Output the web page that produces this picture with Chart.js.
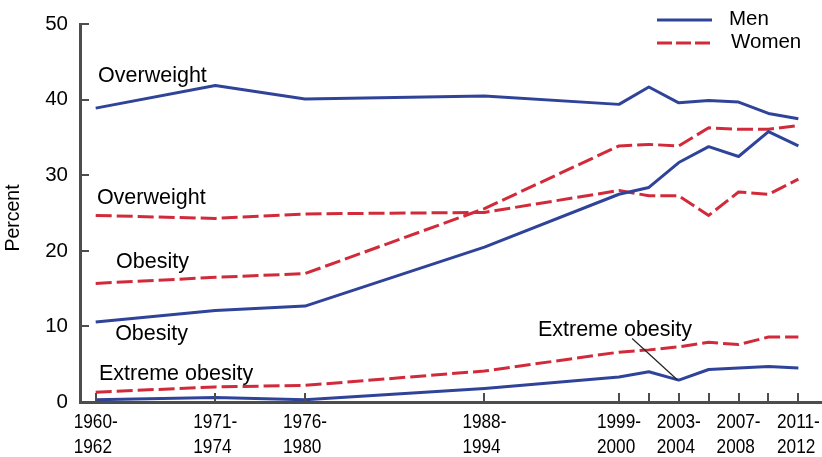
<!DOCTYPE html>
<html><head><meta charset="utf-8">
<script src="https://cdn.jsdelivr.net/npm/chart.js@4.4.1/dist/chart.umd.min.js"></script>
<style>html,body{margin:0;padding:0;background:#fff;}canvas{display:block;}</style>
</head><body>
<canvas id="c" width="822" height="457"></canvas>
<script>
// Survey periods (NHES / NHANES)
const periods = ['1960-1962','1971-1974','1976-1980','1988-1994','1999-2000','2001-2002','2003-2004','2005-2006','2007-2008','2009-2010','2011-2012'];
// Value of each period on the (non-uniform) survey axis of the original chart
const surveyAxisValue = [0, 4, 7, 13, 17.5, 18.5, 19.5, 20.5, 21.5, 22.5, 23.5];
const tickLabels = [['1960-','1962'],['1971-','1974'],['1976-','1980'],['1988-','1994'],['1999-','2000'],[],['2003-','2004'],[],['2007-','2008'],[],['2011-','2012']];
const yTicks = [0, 10, 20, 30, 40, 50];

// Percent, men
const menOverweight      = [38.9, 41.9, 40.1, 40.5, 39.4, 41.7, 39.6, 39.9, 39.7, 38.2, 37.5];
const menObesity         = [10.6, 12.1, 12.7, 20.5, 27.5, 28.4, 31.7, 33.8, 32.5, 35.8, 33.9];
const menExtremeObesity  = [0.3, 0.6, 0.3, 1.8, 3.3, 4.0, 2.9, 4.3, 4.5, 4.7, 4.5];
// Percent, women
const womenOverweight     = [24.7, 24.3, 24.9, 25.1, 28.0, 27.3, 27.3, 24.7, 27.8, 27.5, 29.5];
const womenObesity        = [15.7, 16.5, 17.0, 25.6, 33.9, 34.1, 33.9, 36.3, 36.1, 36.1, 36.6];
const womenExtremeObesity = [1.3, 2.0, 2.2, 4.1, 6.6, 6.9, 7.3, 7.9, 7.6, 8.6, 8.6];

const legendLabels = ['Men', 'Women'];
// Text labels anchored in data units (survey axis value, percent)
const annotations = [
  {text:'Overweight', x:0.08, y:42.4},
  {text:'Overweight', x:0.04, y:26.2},
  {text:'Obesity', x:0.68, y:17.8},
  {text:'Obesity', x:0.65, y:8.25},
  {text:'Extreme obesity', x:0.11, y:2.9},
  {text:'Extreme obesity', x:14.79, y:8.8}
];
const leader = {x1:17.94, y1:8.4, x2:19.45, y2:2.95};

const BLUE = '#2f4499';
const RED = '#d12b3b';
const AXIS = '#4d4d4d';
const DASH = [16, 5];
const SANS = "'Liberation Sans', Arial, Helvetica, sans-serif";
const CONDENSE = 0.82;

function toPoints(vals){ return vals.map((v,i)=>({x:surveyAxisValue[i], y:v})); }
function menSet(label, vals){ return {label, data:toPoints(vals), borderColor:BLUE, borderWidth:3, pointRadius:0, tension:0, fill:false, borderJoinStyle:'round'}; }
function womenSet(label, vals){ return {label, data:toPoints(vals), borderColor:RED, borderWidth:3, borderDash:DASH, pointRadius:0, tension:0, fill:false, borderJoinStyle:'round'}; }

const decor = {
  id:'decor',
  afterDraw(chart){
    const {ctx, chartArea, scales} = chart;
    const xs = scales.x, ys = scales.y;
    ctx.save();
    // inward tick marks
    ctx.strokeStyle = AXIS; ctx.lineWidth = 2;
    xs.ticks.forEach(t=>{
      const px = Math.round(xs.getPixelForValue(t.value));
      ctx.beginPath(); ctx.moveTo(px, chartArea.bottom); ctx.lineTo(px, chartArea.bottom - 9); ctx.stroke();
    });
    ys.ticks.forEach(t=>{
      const py = Math.round(ys.getPixelForValue(t.value));
      ctx.beginPath(); ctx.moveTo(chartArea.left, py); ctx.lineTo(chartArea.left + 9, py); ctx.stroke();
    });
    // x tick labels (condensed, lines left-aligned within a centred block)
    ctx.fillStyle = '#000';
    ctx.font = '21px ' + SANS;
    ctx.textAlign = 'left'; ctx.textBaseline = 'alphabetic';
    surveyAxisValue.forEach((v, i)=>{
      const lines = tickLabels[i];
      if (!lines.length) return;
      const px = xs.getPixelForValue(v);
      const w = Math.max(...lines.map(l=>ctx.measureText(l).width)) * CONDENSE;
      const left = px - w/2;
      lines.forEach((l, k)=>{
        ctx.save();
        ctx.translate(left, chartArea.bottom + 26 + k*25);
        ctx.scale(CONDENSE, 1);
        ctx.fillText(l, 0, 0);
        ctx.restore();
      });
    });
    // annotations
    ctx.font = '21.5px ' + SANS;
    annotations.forEach(a=>{
      ctx.fillText(a.text, xs.getPixelForValue(a.x), ys.getPixelForValue(a.y));
    });
    ctx.strokeStyle = '#222'; ctx.lineWidth = 1.2;
    ctx.beginPath();
    ctx.moveTo(xs.getPixelForValue(leader.x1), ys.getPixelForValue(leader.y1));
    ctx.lineTo(xs.getPixelForValue(leader.x2), ys.getPixelForValue(leader.y2));
    ctx.stroke();
    // y title
    ctx.save();
    ctx.translate(14, 218); ctx.rotate(-Math.PI/2);
    ctx.font = '19.5px ' + SANS; ctx.textAlign = 'center'; ctx.textBaseline = 'middle';
    ctx.fillText('Percent', 0, 0);
    ctx.restore();
    // legend
    const lx1 = 657, lx2 = 712;
    ctx.lineWidth = 3;
    ctx.strokeStyle = BLUE; ctx.setLineDash([]);
    ctx.beginPath(); ctx.moveTo(lx1, 20); ctx.lineTo(lx2, 20); ctx.stroke();
    ctx.strokeStyle = RED; ctx.setLineDash([15, 4]);
    ctx.beginPath(); ctx.moveTo(lx1, 43); ctx.lineTo(lx2, 43); ctx.stroke();
    ctx.setLineDash([]);
    ctx.fillStyle = '#000'; ctx.font = '20.5px ' + SANS; ctx.textAlign = 'left'; ctx.textBaseline = 'alphabetic';
    ctx.fillText(legendLabels[0], 729, 25);
    ctx.fillText(legendLabels[1], 731, 48);
    ctx.restore();
  }
};

new Chart(document.getElementById('c'), {
  type:'line',
  data:{ datasets:[
    menSet('Men overweight', menOverweight),
    menSet('Men obesity', menObesity),
    menSet('Men extreme obesity', menExtremeObesity),
    womenSet('Women overweight', womenOverweight),
    womenSet('Women obesity', womenObesity),
    womenSet('Women extreme obesity', womenExtremeObesity)
  ]},
  options:{
    responsive:false, animation:false, devicePixelRatio:1,
    layout:{padding:{top:20, right:0, left:0, bottom:0}},
    plugins:{legend:{display:false}, tooltip:{enabled:false}},
    scales:{
      x:{
        type:'linear', min:-0.525, max:24.29,
        afterBuildTicks(scale){ scale.ticks = surveyAxisValue.map(v=>({value:v})); },
        afterFit(scale){ scale.height = 55; },
        grid:{display:false, drawTicks:false},
        border:{display:true, color:AXIS, width:3},
        ticks:{display:false}
      },
      y:{
        min:0, max:50,
        afterBuildTicks(scale){ scale.ticks = yTicks.map(v=>({value:v})); },
        afterFit(scale){ scale.width = 80; },
        grid:{display:false, drawTicks:false},
        border:{display:true, color:AXIS, width:3},
        ticks:{padding:12, color:'#000', font:{family:SANS, size:20.5}}
      }
    }
  },
  plugins:[decor]
});
</script>
</body></html>
